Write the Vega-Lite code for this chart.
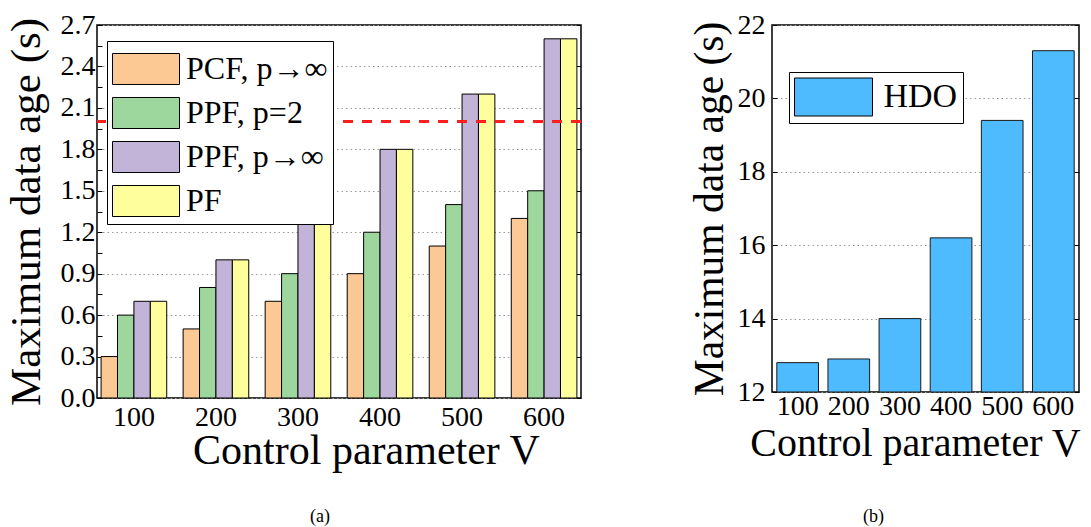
{
  "$schema": "https://vega.github.io/schema/vega-lite/v6.json",
  "padding": {"left": 4, "top": 10, "right": 5, "bottom": 0},
  "background": "white",
  "config": {
    "font": "Liberation Serif",
    "view": {"stroke": "#000000", "strokeWidth": 1.5},
    "axis": {
      "labelFont": "Liberation Serif",
      "titleFont": "Liberation Serif",
      "labelFontSize": 28,
      "titleFontSize": 41,
      "titleFontWeight": "normal",
      "labelColor": "#000000",
      "titleColor": "#000000",
      "domain": false,
      "tickColor": "#000000",
      "tickWidth": 1,
      "gridColor": "#9a9a9a",
      "gridDash": [1.5, 3],
      "gridWidth": 1,
      "grid": false
    },
    "legend": {
      "labelFont": "Liberation Serif",
      "labelColor": "#000000",
      "labelLimit": 400,
      "strokeColor": "#000000",
      "fillColor": "#ffffff",
      "cornerRadius": 0
    },
    "title": {"font": "Liberation Serif", "fontWeight": "normal", "fontSize": 18, "color": "#000000"}
  },
  "resolve": {"scale": {"color": "independent"}, "legend": {"color": "independent"}},
  "spacing": 105,
  "hconcat": [
    {
      "width": 484,
      "height": 373,
      "title": {"text": "(a)", "orient": "bottom", "anchor": "middle", "offset": 37, "dx": -19},
      "data": {
        "values": [
          {"V": "100", "series": "PCF, p→∞", "age": 0.3},
          {"V": "100", "series": "PPF, p=2", "age": 0.6},
          {"V": "100", "series": "PPF, p→∞", "age": 0.7},
          {"V": "100", "series": "PF", "age": 0.7},
          {"V": "200", "series": "PCF, p→∞", "age": 0.5},
          {"V": "200", "series": "PPF, p=2", "age": 0.8},
          {"V": "200", "series": "PPF, p→∞", "age": 1.0},
          {"V": "200", "series": "PF", "age": 1.0},
          {"V": "300", "series": "PCF, p→∞", "age": 0.7},
          {"V": "300", "series": "PPF, p=2", "age": 0.9},
          {"V": "300", "series": "PPF, p→∞", "age": 1.4},
          {"V": "300", "series": "PF", "age": 1.5},
          {"V": "400", "series": "PCF, p→∞", "age": 0.9},
          {"V": "400", "series": "PPF, p=2", "age": 1.2},
          {"V": "400", "series": "PPF, p→∞", "age": 1.8},
          {"V": "400", "series": "PF", "age": 1.8},
          {"V": "500", "series": "PCF, p→∞", "age": 1.1},
          {"V": "500", "series": "PPF, p=2", "age": 1.4},
          {"V": "500", "series": "PPF, p→∞", "age": 2.2},
          {"V": "500", "series": "PF", "age": 2.2},
          {"V": "600", "series": "PCF, p→∞", "age": 1.3},
          {"V": "600", "series": "PPF, p=2", "age": 1.5},
          {"V": "600", "series": "PPF, p→∞", "age": 2.6},
          {"V": "600", "series": "PF", "age": 2.6}
        ]
      },
      "resolve": {"axis": {"y": "independent"}},
      "layer": [
        {
          "mark": {"type": "bar", "stroke": "#000000", "strokeWidth": 1},
          "encoding": {
            "x": {
              "field": "V", "type": "ordinal",
              "scale": {"paddingInner": 0.2, "paddingOuter": 0.05},
              "axis": {"labelAngle": 0, "ticks": false, "labelPadding": 5, "title": "Control parameter V", "titlePadding": -1, "titleX": 269, "titleFontSize": 42}
            },
            "xOffset": {"field": "series", "type": "nominal", "sort": ["PCF, p→∞", "PPF, p=2", "PPF, p→∞", "PF"]},
            "y": {
              "field": "age", "type": "quantitative",
              "scale": {"domain": [0, 2.7], "nice": false},
              "axis": {
                "title": "Maximum data age (s)",
                "titleFontSize": 43,
                "values": [0, 0.15, 0.3, 0.45, 0.6, 0.75, 0.9, 1.05, 1.2, 1.35, 1.5, 1.65, 1.8, 1.95, 2.1, 2.25, 2.4, 2.55, 2.7],
                "labelExpr": "(round(datum.value*100) % 30 == 0) ? format(datum.value, '.1f') : ''",
                "tickSize": -5,
                "labelPadding": 7,
                "titlePadding": 12
              }
            },
            "color": {
              "field": "series", "type": "nominal",
              "scale": {"domain": ["PCF, p→∞", "PPF, p=2", "PPF, p→∞", "PF"], "range": ["#FCC894", "#9ED79E", "#C2B3D8", "#FFFE9C"]},
              "legend": {
                "title": null,
                "orient": "none",
                "legendX": 10,
                "legendY": 16,
                "symbolType": "M-1.4889,-0.6889H1.4889V0.6889H-1.4889Z",
                "symbolSize": 2025,
                "symbolOffset": 11,
                "symbolStrokeColor": "#000000",
                "symbolStrokeWidth": 1,
                "symbolOpacity": 1,
                "labelFontSize": 32,
                "labelOffset": 17,
                "rowPadding": 3,
                "padding": 5
              }
            }
          }
        },
        {
          "mark": {"type": "rule", "color": "#FF1F1F", "strokeWidth": 2, "strokeDash": [10, 9]},
          "encoding": {
            "y": {
              "datum": 2.0, "type": "quantitative",
              "axis": {
                "orient": "right",
                "values": [0, 0.3, 0.6, 0.9, 1.2, 1.5, 1.8, 2.1, 2.4, 2.7],
                "labels": false,
                "title": null,
                "grid": true,
                "tickSize": -5
              }
            }
          }
        }
      ]
    },
    {
      "width": 307,
      "height": 367,
      "title": {"text": "(b)", "orient": "bottom", "anchor": "middle", "offset": 45, "dx": -52},
      "data": {
        "values": [
          {"V": "100", "method": "HDO", "age": 12.8},
          {"V": "200", "method": "HDO", "age": 12.9},
          {"V": "300", "method": "HDO", "age": 14.0},
          {"V": "400", "method": "HDO", "age": 16.2},
          {"V": "500", "method": "HDO", "age": 19.4},
          {"V": "600", "method": "HDO", "age": 21.3}
        ]
      },
      "resolve": {"axis": {"y": "independent"}},
      "layer": [
        {
          "mark": {"type": "bar", "stroke": "#1a1a1a", "strokeWidth": 1},
          "encoding": {
            "x": {
              "field": "V", "type": "ordinal",
              "scale": {"paddingInner": 0.185, "paddingOuter": 0.094},
              "axis": {"labelAngle": 0, "tickSize": -5, "labelPadding": 5, "title": "Control parameter V", "titlePadding": 3, "titleX": 143, "titleFontSize": 40}
            },
            "y": {
              "field": "age", "type": "quantitative",
              "scale": {"domain": [12, 22], "nice": false, "zero": false},
              "axis": {
                "title": "Maximum data age (s)",
                "titleFontSize": 41.5,
                "values": [12, 14, 16, 18, 20, 22],
                "tickSize": -5,
                "labelPadding": 12,
                "titlePadding": 6
              }
            },
            "y2": {"datum": 12},
            "color": {
              "field": "method", "type": "nominal",
              "scale": {"domain": ["HDO"], "range": ["#4EBBFF"]},
              "legend": {
                "title": null,
                "orient": "none",
                "legendX": 17,
                "legendY": 47,
                "symbolType": "M-2,-0.974H2V0.974H-2Z",
                "symbolSize": 1521,
                "symbolOffset": 19.5,
                "symbolStrokeColor": "#000000",
                "symbolStrokeWidth": 1,
                "symbolOpacity": 1,
                "labelFontSize": 34,
                "labelOffset": 30,
                "padding": 5
              }
            }
          }
        },
        {
          "mark": {"type": "rule", "opacity": 0},
          "encoding": {
            "y": {
              "datum": 12, "type": "quantitative",
              "axis": {
                "orient": "right",
                "values": [12, 14, 16, 18, 20, 22],
                "labels": false,
                "title": null,
                "grid": true,
                "tickSize": -5
              }
            }
          }
        }
      ]
    }
  ]
}
